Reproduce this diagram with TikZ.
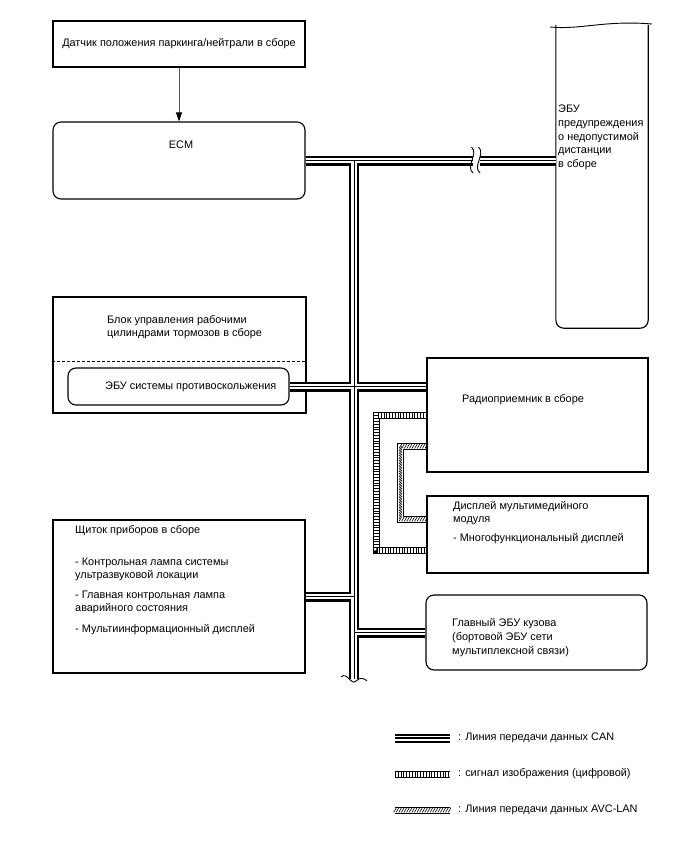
\documentclass[tikz,border=0pt]{standalone}
\usepackage{fontspec}
\setmainfont{Liberation Sans}
\usepackage{tikz}
\usetikzlibrary{
	arrows.meta, positioning, calc, decorations.markings
}

\tikzset{
	box/.style={draw, line width=1.1pt, inner sep=0pt},
	rbox/.style={box, rounded corners=8pt},
	txt/.style={inner sep=0pt, align=left, font=\fontsize{10.9}{13}\selectfont},
	sig/.style={line width=0.8pt, draw=black!65, -{Triangle[black, length=9pt, width=6pt]}},
	can/.style={draw=white, line width=5.6pt,
		preaction={draw=black, line width=10pt},
		postaction={draw=black, line width=0.9pt}},
	cankey/.style={draw=white, line width=5pt,
		preaction={draw=black, line width=9pt},
		postaction={draw=black, line width=1.8pt}},
	vid/.style={draw=white, line width=5pt,
		preaction={draw=black, line width=7pt},
		postaction={draw=black, line width=5pt, dash pattern=on 0.8pt off 2pt}},
	avc/.style={draw=white, line width=5pt,
		preaction={draw=black, line width=7pt},
		postaction={decorate, decoration={markings,
			mark=between positions 0 and 1 step 2.6pt with {\pgftransformresetnontranslations
				\draw[black, line width=0.6pt] (-1.4pt,-2.4pt) -- (1.4pt,2.4pt);}}}},
	cut/.style={line width=0.9pt}
}

\begin{document}
\begin{tikzpicture}[x=1pt,y=-1pt]
	\useasboundingbox (0,0) rectangle (688,852);

	\node[box, minimum width=252pt, minimum height=46pt, font=\fontsize{10.9}{13}\selectfont] (sensor) at (179,44) {Датчик положения паркинга/нейтрали в сборе};
	\node[rbox, minimum width=252pt, minimum height=77pt] (ecm) at (179,160.5) {};
	\node[txt] (ecmlbl) at (181,145) {ECM};
	\draw[sig] (sensor) -- (ecm);

	\node[minimum width=92pt, minimum height=303pt, inner sep=0pt] (ecu) at (602,176.5) {};
	\draw[line width=1.1pt, rounded corners=8pt] (ecu.north west) -- (ecu.south west) -- (ecu.south east) -- (ecu.north east);
	\draw[cut] (550,27) .. controls (580,30) and (605,20) .. (652,24);
	\node[txt, anchor=north west, font=\fontsize{10.9}{13.7}\selectfont] (eculbl) at (558,105) {ЭБУ\\предупреждения\\о недопустимой\\дистанции\\в сборе};

	\node[box, minimum width=253pt, minimum height=116pt] (brake) at (179.5,355) {};
	\node[txt, anchor=north west] (brakelbl) at (107,315) {Блок управления рабочими\\цилиндрами тормозов в сборе};
	\draw[line width=1pt, dash pattern=on 3pt off 2pt] ([yshift=-6pt]brake.west) -- ([yshift=-6pt]brake.east);
	\node[rbox, minimum width=221pt, minimum height=37pt] (absecu) at (178.5,386.5) {};
	\node[txt, anchor=west] (abslbl) at (105,387) {ЭБУ системы противоскольжения};

	\node[box, minimum width=221pt, minimum height=114pt] (radio) at (537.5,415) {};
	\node[txt, anchor=west] (radiolbl) at (462,400) {Радиоприемник в сборе};

	\node[box, minimum width=221pt, minimum height=77pt] (disp) at (537.5,534.5) {};
	\node[txt, anchor=north west] (displbl) at (453,501) {Дисплей мультимедийного\\модуля\\[6pt]- Многофункциональный дисплей};

	\node[box, minimum width=252pt, minimum height=153pt] (cluster) at (179,596.5) {};
	\node[txt, anchor=north west, font=\fontsize{10.9}{12.5}\selectfont] (clusterlbl) at (75,525) {Щиток приборов в сборе\\[20pt]- Контрольная лампа системы\\ультразвуковой локации\\[8pt]- Главная контрольная лампа\\аварийного состояния\\[9pt]- Мультиинформационный дисплей};

	\node[rbox, minimum width=221pt, minimum height=75pt] (body) at (536.5,632.5) {};
	\node[txt, anchor=north west, font=\fontsize{10.9}{14}\selectfont] (bodylbl) at (452,618) {Главный ЭБУ кузова\\(бортовой ЭБУ сети\\мультиплексной связи)};

	\coordinate (busend) at (354,679);
	\draw[can] (ecm.east) -- (ecm.east -| ecu.west)
		(ecm.east -| busend) -- (busend)
		(absecu.east) -- (absecu.east -| radio.west)
		(cluster.east) -- (cluster.east -| busend)
		(body.west -| busend) -- (body.west);
	\fill[white] (473,151) rectangle (479.5,170);
	\draw[cut] (471.5,147) .. controls (479,154) and (465,166) .. (473,173);
	\draw[cut] (478.5,147) .. controls (486,154) and (472,166) .. (480,173);
	\draw[cut] (341,677) .. controls (347,671) and (351,686) .. (356,681) .. controls (360,677) and (364,678) .. (367,681);

	\coordinate (vidtop) at (376.5,415);
	\coordinate (vidbot) at (376.5,550);
	\draw[vid] (radio.west) -- (vidtop) -- (vidbot) -- (vidbot -| disp.west);
	\coordinate (avctop) at (400.5,446);
	\coordinate (avcbot) at (400.5,519);
	\draw[avc] (avctop -| radio.west) -- (avctop) -- (avcbot) -- (avcbot -| disp.west);

	\coordinate (keycan) at (395,738);
	\coordinate (keyvid) at (395,774);
	\coordinate (keyavc) at (395,810);
	\node[txt, anchor=west] (canlbl) at (458,738) {: Линия передачи данных CAN};
	\node[txt, anchor=west] (vidlbl) at (458,774) {: сигнал изображения (цифровой)};
	\node[txt, anchor=west] (avclbl) at (458,810) {: Линия передачи данных AVC-LAN};
	\draw[cankey] (keycan) -- ++(55,0);
	\draw[vid] (keyvid) -- ++(55,0);
	\draw[avc] (keyavc) -- ++(55,0);
\end{tikzpicture}
\end{document}
